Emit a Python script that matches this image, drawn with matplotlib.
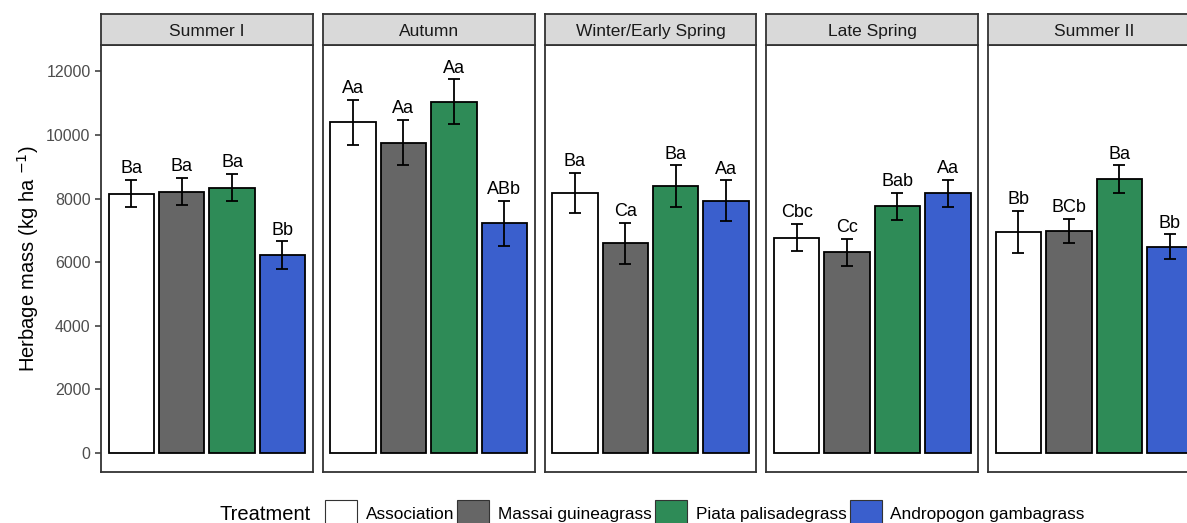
import numpy as np
import matplotlib.pyplot as plt
from matplotlib.patches import Patch

plt.rcParams['font.family'] = ['Liberation Sans', 'DejaVu Sans']

# Data
seasons = ['Summer I', 'Autumn', 'Winter/Early Spring', 'Late Spring', 'Summer II']
treatments = ['Association', 'Massai guineagrass', 'Piata palisadegrass', 'Andropogon gambagrass']
colors = ['#FFFFFF', '#666666', '#2E8B57', '#3A5FCD']

means = [
    [8150, 8220, 8340, 6220],
    [10400, 9760, 11040, 7220],
    [8170, 6590, 8390, 7930],
    [6770, 6310, 7760, 8160],
    [6950, 6980, 8610, 6480],
]
errors = [
    [430, 430, 430, 430],
    [710, 710, 710, 710],
    [640, 650, 650, 640],
    [430, 430, 430, 430],
    [650, 390, 430, 390],
]
letters = [
    ['Ba', 'Ba', 'Ba', 'Bb'],
    ['Aa', 'Aa', 'Aa', 'ABb'],
    ['Ba', 'Ca', 'Ba', 'Aa'],
    ['Cbc', 'Cc', 'Bab', 'Aa'],
    ['Bb', 'BCb', 'Ba', 'Bb'],
]

W, H = 1187, 523
fig = plt.figure(figsize=(W / 100, H / 100), dpi=100)

x = np.arange(1, 5)
for i, season in enumerate(seasons):
    left = (101 + 221.8 * i) / W
    width = 211.7 / W
    ax = fig.add_axes([left, 1 - 472 / H, width, (472 - 45.3) / H])
    ax.bar(x, means[i], width=0.9, color=colors, edgecolor='black', linewidth=1.3, zorder=2)
    ax.errorbar(x, means[i], yerr=errors[i], fmt='none', ecolor='black',
                elinewidth=1.3, capsize=4.5, capthick=1.3, zorder=3)
    for xi, m, e, lab in zip(x, means[i], errors[i], letters[i]):
        ax.annotate(lab, (xi, m + e), xytext=(0, 2), textcoords='offset points',
                    ha='center', va='bottom', fontsize=13, color='black')
    ax.set_xlim(0.4, 4.6)
    ax.set_ylim(-600, 12820)
    ax.set_xticks([])
    for s in ax.spines.values():
        s.set_color('#333333')
        s.set_linewidth(1.3)
    if i == 0:
        ax.set_yticks(np.arange(0, 12001, 2000))
        ax.tick_params(axis='y', colors='#333333', length=4, width=1.1,
                       labelsize=11.5, labelcolor='#4D4D4D')
        ax.set_ylabel('Herbage mass (kg ha $^{-1}$)', fontsize=14.5, labelpad=4)
    else:
        ax.set_yticks([])

    sax = fig.add_axes([left, 1 - 45.3 / H, width, 31.6 / H])
    sax.set_facecolor('#D9D9D9')
    sax.set_xticks([])
    sax.set_yticks([])
    for s in sax.spines.values():
        s.set_color('#333333')
        s.set_linewidth(1.3)
    sax.text(0.5, 0.45, season, ha='center', va='center', fontsize=12.5,
             color='#1A1A1A', transform=sax.transAxes)

handles = [Patch(facecolor=c, edgecolor='#333333', linewidth=0.8) for c in colors]
fig.text(265 / W, 1 - 514 / H, 'Treatment', ha='center', va='center', fontsize=14.5)
fig.legend(handles, treatments, loc='center left', bbox_to_anchor=(325 / W, 1 - 514 / H),
           ncol=4, frameon=False, fontsize=12.4, handlelength=1.85, handleheight=2.1,
           handletextpad=0.5, columnspacing=0.2, borderpad=0, borderaxespad=0)

fig.savefig('out.png', dpi=100)
